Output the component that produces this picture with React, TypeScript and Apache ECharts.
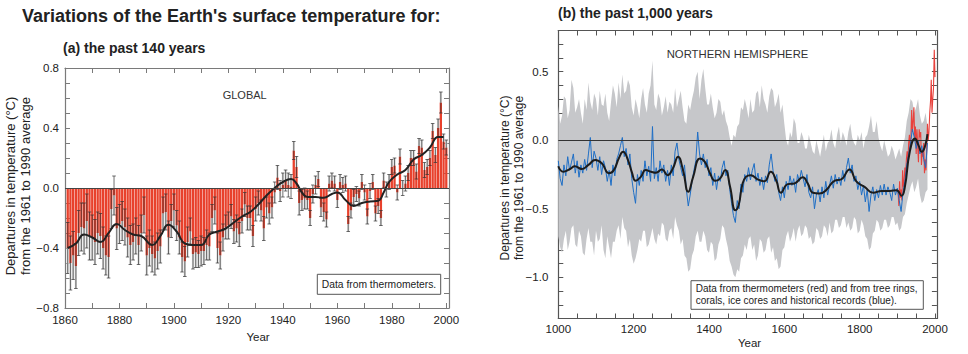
import React, { useEffect, useRef } from 'react';
import * as echarts from 'echarts';

// ---------- (a) Global, 1861-2000 ----------
const globalStartYear = 1861;
const globalValues = [
  -0.40, -0.50, -0.45, -0.52, -0.30, -0.26, -0.27, -0.22, -0.32, -0.33,
  -0.36, -0.30, -0.32, -0.40, -0.45, -0.46, -0.14, -0.05, -0.27, -0.24,
  -0.22, -0.26, -0.33, -0.38, -0.36, -0.32, -0.38, -0.30, -0.18, -0.45,
  -0.40, -0.44, -0.47, -0.42, -0.39, -0.17, -0.16, -0.33, -0.22, -0.15,
  -0.25, -0.33, -0.46, -0.49, -0.36, -0.29, -0.44, -0.43, -0.44, -0.42,
  -0.42, -0.38, -0.39, -0.20, -0.15, -0.40, -0.45, -0.33, -0.26, -0.25,
  -0.19, -0.29, -0.27, -0.31, -0.22, -0.11, -0.20, -0.20, -0.32, -0.14,
  -0.10, -0.15, -0.27, -0.13, -0.17, -0.13, -0.03, 0.07, -0.02, 0.02,
  0.05, 0.02, 0.01, 0.25, 0.14, -0.10, -0.08, -0.07, -0.08, -0.20,
  -0.04, 0.02, 0.06, -0.13, -0.16, -0.21, 0.03, 0.05, 0.03, -0.08,
  0.04, 0.02, 0.03, -0.24, -0.15, -0.06, -0.04, -0.07, 0.04, -0.03,
  -0.19, -0.02, 0.04, -0.17, -0.12, -0.20, 0.05, -0.01, 0.04, 0.14,
  0.15, -0.03, 0.21, 0.00, 0.03, 0.10, 0.20, 0.20, 0.11, 0.28,
  0.27, 0.12, 0.14, 0.20, 0.38, 0.22, 0.40, 0.57, 0.31, 0.27,
];
const globalErrors = [
  0.17, 0.18, 0.16, 0.15, 0.15, 0.16, 0.17, 0.18, 0.16, 0.15,
  0.15, 0.14, 0.15, 0.14, 0.13, 0.14, 0.13, 0.13, 0.14, 0.13,
  0.13, 0.12, 0.13, 0.13, 0.12, 0.12, 0.13, 0.12, 0.12, 0.13,
  0.12, 0.12, 0.11, 0.12, 0.11, 0.11, 0.12, 0.11, 0.11, 0.11,
  0.10, 0.11, 0.10, 0.10, 0.10, 0.09, 0.10, 0.10, 0.09, 0.10,
  0.09, 0.10, 0.09, 0.09, 0.09, 0.10, 0.09, 0.09, 0.08, 0.09,
  0.08, 0.08, 0.09, 0.08, 0.08, 0.08, 0.08, 0.08, 0.07, 0.08,
  0.08, 0.07, 0.08, 0.07, 0.07, 0.07, 0.07, 0.08, 0.07, 0.08,
  0.07, 0.08, 0.08, 0.06, 0.07, 0.08, 0.07, 0.07, 0.06, 0.05,
  0.06, 0.06, 0.05, 0.06, 0.06, 0.05, 0.05, 0.05, 0.05, 0.05,
  0.05, 0.05, 0.05, 0.05, 0.05, 0.05, 0.05, 0.05, 0.05, 0.05,
  0.05, 0.05, 0.05, 0.05, 0.05, 0.05, 0.05, 0.05, 0.05, 0.05,
  0.05, 0.05, 0.05, 0.05, 0.05, 0.05, 0.05, 0.05, 0.05, 0.05,
  0.05, 0.05, 0.05, 0.05, 0.05, 0.05, 0.06, 0.07, 0.05, 0.05,
];
const globalSmoothYears = [
  1861, 1864, 1867, 1870, 1873, 1876, 1879, 1882, 1885, 1888,
  1892, 1895, 1898, 1901, 1904, 1907, 1910, 1913, 1916, 1919,
  1922, 1925, 1928, 1931, 1934, 1937, 1940, 1943, 1945, 1947,
  1949, 1952, 1955, 1958, 1960, 1963, 1966, 1969, 1972, 1975,
  1977, 1979, 1982, 1985, 1988, 1991, 1994, 1997, 1999,
];
const globalSmoothValues = [
  -0.40, -0.37, -0.31, -0.33, -0.36, -0.30, -0.24, -0.28, -0.31, -0.32,
  -0.38, -0.32, -0.245, -0.29, -0.37, -0.38, -0.38, -0.31, -0.29, -0.27,
  -0.23, -0.19, -0.16, -0.11, -0.05, 0.00, 0.04, 0.06, 0.03, -0.03,
  -0.06, -0.06, -0.065, -0.04, -0.03, -0.08, -0.12, -0.10, -0.09, -0.085,
  -0.03, 0.04, 0.09, 0.12, 0.19, 0.22, 0.27, 0.34, 0.34,
];

// ---------- (b) Northern Hemisphere, 1000-2000 ----------
const proxyStartYear = 1000;
const proxyStep = 5;
const proxyValues = [
  -0.15, -0.28, -0.33, -0.18, -0.26, -0.12, -0.22, -0.16, -0.10, -0.24,
  -0.15, -0.27, -0.18, -0.24, -0.14, -0.22, -0.10, 0.02, -0.20, -0.08,
  -0.13, -0.22, -0.12, -0.25, -0.15, -0.20, -0.30, -0.22, -0.33, -0.18,
  -0.26, -0.14, -0.10, -0.04, 0.02, -0.12, -0.06, -0.18, -0.10, -0.28,
  -0.38, -0.46, -0.25, -0.33, -0.22, -0.30, -0.15, -0.26, -0.19, -0.30,
  0.10, -0.28, -0.20, -0.30, -0.15, -0.24, -0.18, -0.30, -0.22, -0.33,
  -0.18, -0.26, -0.08, -0.02, -0.14, -0.20, -0.26, -0.18, -0.36, -0.48,
  -0.40, -0.30, -0.22, -0.15, 0.06, -0.10, -0.18, -0.10, -0.20, -0.14,
  -0.26, -0.20, -0.33, -0.24, -0.36, -0.26, -0.30, -0.20, -0.15, -0.26,
  -0.22, -0.36, -0.46, -0.55, -0.60, -0.44, -0.50, -0.32, -0.38, -0.25,
  -0.30, -0.20, -0.29, -0.22, -0.17, -0.30, -0.24, -0.33, -0.27, -0.36,
  -0.26, -0.31, -0.18, -0.10, -0.22, -0.30, -0.25, -0.38, -0.44, -0.34,
  -0.42, -0.30, -0.36, -0.26, -0.33, -0.28, -0.38, -0.25, -0.30, -0.22,
  -0.28, -0.34, -0.25, -0.38, -0.42, -0.34, -0.50, -0.40, -0.36, -0.45,
  -0.34, -0.42, -0.30, -0.40, -0.33, -0.26, -0.35, -0.25, -0.32, -0.27,
  -0.33, -0.22, -0.30, -0.20, -0.13, -0.24, -0.18, -0.30, -0.26, -0.36,
  -0.30, -0.40, -0.33, -0.45, -0.36, -0.52, -0.40, -0.34, -0.44, -0.36,
  -0.42, -0.33, -0.40, -0.32, -0.40, -0.34, -0.38, -0.44, -0.32, -0.40,
  -0.35, -0.44, -0.52, -0.38, -0.30, -0.18, -0.10, -0.02, 0.08, 0.02,
  -0.06, 0.00, -0.10, -0.04, -0.14, -0.20, -0.02,
];

const bandStartYear = 1000;
const bandStep = 5;
const bandUpper = [
  0.25, 0.12, 0.18, 0.32, 0.30, 0.16, 0.22, 0.44, 0.38, 0.20,
  0.24, 0.30, 0.20, 0.12, 0.30, 0.22, 0.42, 0.28, 0.22, 0.34,
  0.30, 0.18, 0.36, 0.26, 0.25, 0.34, 0.20, 0.14, 0.28, 0.40,
  0.34, 0.24, 0.42, 0.30, 0.48, 0.34, 0.36, 0.44, 0.40, 0.24,
  0.18, 0.30, 0.24, 0.16, 0.30, 0.38, 0.26, 0.20, 0.34, 0.40,
  0.58, 0.26, 0.22, 0.34, 0.30, 0.18, 0.24, 0.32, 0.20, 0.28,
  0.26, 0.20, 0.38, 0.24, 0.30, 0.36, 0.24, 0.14, 0.12, 0.26,
  0.22, 0.30, 0.36, 0.46, 0.50, 0.30, 0.44, 0.52, 0.38, 0.26,
  0.26, 0.34, 0.24, 0.16, 0.20, 0.30, 0.28, 0.18, 0.22, 0.14,
  0.10, 0.02, -0.04, 0.04, 0.02, 0.10, 0.12, 0.24, 0.22, 0.30,
  0.24, 0.16, 0.30, 0.20, 0.22, 0.34, 0.36, 0.24, 0.40, 0.30,
  0.26, 0.20, 0.32, 0.38, 0.36, 0.24, 0.28, 0.34, 0.20, 0.26,
  0.12, 0.00, -0.04, 0.06, 0.02, 0.16, 0.12, -0.02, -0.02, 0.06,
  0.02, -0.06, -0.06, 0.04, -0.02, -0.08, -0.10, 0.00, -0.06, -0.12,
  -0.04, 0.04, -0.08, -0.02, 0.00, 0.08, -0.02, -0.06, 0.04, 0.10,
  -0.02, 0.06, 0.02, -0.04, 0.06, 0.12, 0.02, -0.02, -0.04, 0.04,
  0.00, 0.06, -0.06, 0.02, 0.04, 0.10, 0.18, 0.06, 0.06, 0.14,
  0.02, -0.04, -0.08, 0.00, -0.06, -0.12, -0.10, -0.04, -0.08, -0.14,
  -0.10, -0.06, -0.12, -0.04, 0.02, 0.14, 0.20, 0.30, 0.28, 0.20,
  0.24, 0.30, 0.18, 0.12, 0.14, 0.20, 0.10,
];
const bandLower = [
  -0.70, -0.78, -0.82, -0.72, -0.66, -0.80, -0.74, -0.64, -0.62, -0.76,
  -0.78, -0.66, -0.70, -0.82, -0.84, -0.72, -0.64, -0.74, -0.74, -0.84,
  -0.66, -0.74, -0.72, -0.62, -0.80, -0.86, -0.70, -0.78, -0.86, -0.74,
  -0.74, -0.66, -0.62, -0.72, -0.56, -0.64, -0.66, -0.78, -0.72, -0.84,
  -0.90, -0.86, -0.80, -0.72, -0.74, -0.66, -0.66, -0.78, -0.76, -0.70,
  -0.64, -0.72, -0.76, -0.68, -0.70, -0.60, -0.62, -0.72, -0.74, -0.66,
  -0.64, -0.72, -0.56, -0.62, -0.66, -0.76, -0.72, -0.84, -0.86, -0.96,
  -0.94, -0.84, -0.80, -0.70, -0.66, -0.74, -0.74, -0.66, -0.70, -0.80,
  -0.82, -0.74, -0.76, -0.88, -0.86, -0.76, -0.72, -0.62, -0.64, -0.72,
  -0.78, -0.88, -0.92, -0.98, -1.00, -0.94, -0.96, -0.86, -0.84, -0.76,
  -0.80, -0.72, -0.70, -0.80, -0.76, -0.88, -0.84, -0.72, -0.74, -0.82,
  -0.80, -0.72, -0.70, -0.82, -0.78, -0.88, -0.86, -0.94, -0.92, -0.80,
  -0.78, -0.70, -0.66, -0.74, -0.70, -0.64, -0.74, -0.66, -0.62, -0.70,
  -0.68, -0.62, -0.64, -0.72, -0.70, -0.76, -0.74, -0.64, -0.66, -0.72,
  -0.70, -0.62, -0.64, -0.70, -0.60, -0.68, -0.66, -0.58, -0.58, -0.64,
  -0.62, -0.56, -0.56, -0.64, -0.60, -0.66, -0.64, -0.56, -0.58, -0.68,
  -0.66, -0.58, -0.62, -0.70, -0.72, -0.80, -0.78, -0.68, -0.66, -0.58,
  -0.60, -0.66, -0.64, -0.58, -0.58, -0.64, -0.62, -0.56, -0.56, -0.62,
  -0.60, -0.66, -0.64, -0.56, -0.54, -0.46, -0.40, -0.34, -0.30, -0.38,
  -0.34, -0.28, -0.40, -0.46, -0.44, -0.38, -0.36,
];

const thermoStartYear = 1902;
const thermoStep = 2;
const thermoValues = [
  -0.38, -0.48, -0.30, -0.42, -0.36, -0.44, -0.22, -0.34, -0.30, -0.20,
  -0.26, -0.14, -0.08, -0.16, -0.02, 0.04, -0.06, 0.02, 0.22, 0.06,
  0.14, 0.24, 0.02, 0.10, -0.10, 0.08, -0.04, -0.16, 0.08, 0.02,
  0.06, -0.18, -0.08, -0.12, -0.02, -0.24, -0.14, -0.22, -0.06, 0.12,
  0.00, 0.06, 0.20, 0.28, 0.44, 0.20, 0.30, 0.38, 0.66, 0.46,
];

const nhSmoothYears = [
  1000, 1013, 1031, 1044, 1062, 1080, 1098, 1116, 1134, 1147,
  1161, 1172, 1183, 1196, 1205, 1219, 1232, 1246, 1259, 1275,
  1290, 1304, 1318, 1331, 1345, 1358, 1376, 1389, 1403, 1416,
  1429, 1443, 1456, 1470, 1479, 1488, 1498, 1511, 1529, 1547,
  1564, 1578, 1591, 1609, 1627, 1649, 1662, 1676, 1693, 1711,
  1733, 1751, 1773, 1791, 1813, 1836, 1858, 1880, 1898, 1911,
  1920, 1933, 1947, 1956, 1965, 1973, 1980,
];
const nhSmoothValues = [
  -0.19, -0.23, -0.21, -0.19, -0.21, -0.18, -0.145, -0.17, -0.24, -0.22,
  -0.13, -0.085, -0.13, -0.24, -0.296, -0.267, -0.218, -0.23, -0.238, -0.213,
  -0.255, -0.206, -0.12, -0.218, -0.376, -0.267, -0.133, -0.158, -0.242, -0.296,
  -0.28, -0.218, -0.34, -0.51, -0.47, -0.33, -0.267, -0.255, -0.286, -0.30,
  -0.23, -0.29, -0.383, -0.32, -0.315, -0.27, -0.315, -0.383, -0.388, -0.364,
  -0.296, -0.286, -0.213, -0.30, -0.34, -0.383, -0.37, -0.37, -0.364, -0.405,
  -0.34, -0.085, 0.012, -0.036, -0.085, -0.048, 0.044,
];

const FONT = '"Liberation Sans", Arial, Helvetica, sans-serif';

const fmtSigned = (v: number, d: number) => {
  const s = Math.abs(v).toFixed(d);
  return v < -1e-9 ? '\u2212' + s : s;
};

const series = (start: number, step: number, vals: number[]) =>
  vals.map((v, i) => [start + i * step, v]);

export default function App() {
  const ref = useRef<HTMLDivElement>(null);

  useEffect(() => {
    if (!ref.current) return;
    const chart = echarts.init(ref.current, undefined, { renderer: 'svg' });

    const leftAxisColor = '#7a7a7a';
    const rightAxisColor = '#555';

    const xCommon = (grid: number, min: number, max: number, interval: number, color: string) => ({
      gridIndex: grid,
      type: 'value',
      min,
      max,
      interval,
      splitLine: { show: false },
      axisLine: { show: true, onZero: false, lineStyle: { color, width: 1.2 } },
      axisTick: { show: true, inside: true, length: 5, lineStyle: { color, width: 1 } },
    });

    const globalBars = globalValues.map((v, i) => [globalStartYear + i, v]);
    const globalErr = globalValues.map((v, i) => [globalStartYear + i, v, globalErrors[i]]);

    const option: any = {
      animation: false,
      grid: [
        { left: 65, top: 68, width: 384, height: 240 },
        { left: 558.3, top: 30.5, width: 378.6, height: 288 },
      ],
      xAxis: [
        {
          ...xCommon(0, 1860, 2001, 10, leftAxisColor),
          position: 'bottom',
          axisLabel: {
            color: '#222', fontSize: 11.5, fontFamily: FONT, margin: 6,
            formatter: (v: number) => (Math.round(v) % 20 === 0 && v <= 2000 ? String(Math.round(v)) : ''),
          },
        },
        { ...xCommon(0, 1860, 2001, 10, leftAxisColor), position: 'top', axisLabel: { show: false } },
        {
          ...xCommon(1, 1000, 2005, 50, rightAxisColor),
          position: 'bottom',
          axisLabel: {
            color: '#222', fontSize: 11.5, fontFamily: FONT, margin: 4,
            formatter: (v: number) => (Math.round(v) % 200 === 0 && v <= 2000 ? String(Math.round(v)) : ''),
          },
        },
        { ...xCommon(1, 1000, 2005, 50, rightAxisColor), position: 'top', axisLabel: { show: false } },
      ],
      yAxis: [
        {
          ...xCommon(0, -0.8, 0.8, 0.1, leftAxisColor),
          position: 'left',
          axisLabel: {
            color: '#222', fontSize: 11.5, fontFamily: FONT, margin: 6,
            formatter: (v: number) => {
              const r = Math.round(v * 10);
              return r % 4 === 0 ? fmtSigned(r / 10, 1) : '';
            },
          },
        },
        { ...xCommon(0, -0.8, 0.8, 0.1, leftAxisColor), position: 'right', axisLabel: { show: false } },
        {
          ...xCommon(1, -1.3, 0.8, 0.1, rightAxisColor),
          position: 'left',
          axisLabel: {
            color: '#222', fontSize: 11.5, fontFamily: FONT, margin: 10,
            formatter: (v: number) => {
              const r = Math.round(v * 10);
              return r % 5 === 0 ? fmtSigned(r / 10, 1) : '';
            },
          },
        },
        { ...xCommon(1, -1.3, 0.8, 0.1, rightAxisColor), position: 'right', axisLabel: { show: false } },
      ],
      series: [
        {
          type: 'bar',
          xAxisIndex: 0,
          yAxisIndex: 0,
          data: globalBars,
          barWidth: 2.3,
          itemStyle: { color: '#e8412c' },
          z: 2,
        },
        {
          type: 'custom',
          xAxisIndex: 0,
          yAxisIndex: 0,
          data: globalErr,
          encode: { x: 0, y: 1 },
          z: 3,
          renderItem: (_p: any, api: any) => {
            const x = api.value(0);
            const v = api.value(1);
            const e = api.value(2);
            const pV = api.coord([x, v]);
            const pLo = api.coord([x, v - e]);
            const pHi = api.coord([x, v + e]);
            const far = v < 0 ? pLo : pHi;
            const cap = 1.8;
            const ls = { stroke: '#333', lineWidth: 0.7 };
            return {
              type: 'group',
              children: [
                {
                  type: 'rect',
                  shape: { x: pV[0] - 1.1, y: Math.min(pV[1], far[1]), width: 2.2, height: Math.abs(far[1] - pV[1]) },
                  style: { fill: '#dadada' },
                },
                { type: 'line', shape: { x1: pV[0], y1: pHi[1], x2: pV[0], y2: pLo[1] }, style: ls },
                { type: 'line', shape: { x1: pV[0] - cap, y1: pHi[1], x2: pV[0] + cap, y2: pHi[1] }, style: ls },
                { type: 'line', shape: { x1: pV[0] - cap, y1: pLo[1], x2: pV[0] + cap, y2: pLo[1] }, style: ls },
              ],
            };
          },
        },
        {
          type: 'line',
          xAxisIndex: 0,
          yAxisIndex: 0,
          data: globalSmoothYears.map((y, i) => [y, globalSmoothValues[i]]),
          smooth: 0.5,
          symbol: 'none',
          lineStyle: { color: '#222', width: 2 },
          z: 4,
          markLine: {
            silent: true,
            symbol: 'none',
            label: { show: false },
            lineStyle: { color: '#444', width: 1, type: 'solid' },
            data: [{ yAxis: 0 }],
          },
        },
        {
          // uncertainty band drawn as one polygon through the axis scales
          type: 'custom',
          xAxisIndex: 2,
          yAxisIndex: 2,
          data: [[bandStartYear, 0]],
          encode: { x: 0, y: 1 },
          z: 2,
          renderItem: (_p: any, api: any) => {
            const pts: number[][] = [];
            bandUpper.forEach((u, i) => pts.push(api.coord([bandStartYear + i * bandStep, u])));
            for (let i = bandLower.length - 1; i >= 0; i--) {
              pts.push(api.coord([bandStartYear + i * bandStep, bandLower[i]]));
            }
            return { type: 'polygon', shape: { points: pts }, style: { fill: '#c6c7ca' } };
          },
          markLine: {
            silent: true,
            symbol: 'none',
            label: { show: false },
            lineStyle: { color: '#333', width: 1, type: 'solid' },
            data: [{ yAxis: 0 }],
          },
        },
        {
          type: 'line',
          xAxisIndex: 2,
          yAxisIndex: 2,
          data: series(thermoStartYear, thermoStep, thermoValues),
          symbol: 'none',
          lineStyle: { color: '#e8413c', width: 1.1 },
          z: 3,
        },
        {
          type: 'line',
          xAxisIndex: 2,
          yAxisIndex: 2,
          data: series(proxyStartYear, proxyStep, proxyValues),
          symbol: 'none',
          lineStyle: { color: '#1f6fc6', width: 1 },
          z: 4,
        },
        {
          type: 'line',
          xAxisIndex: 2,
          yAxisIndex: 2,
          data: nhSmoothYears.map((y, i) => [y, nhSmoothValues[i]]),
          smooth: 0.5,
          symbol: 'none',
          lineStyle: { color: '#1c1c1c', width: 2 },
          z: 5,
        },
      ],
      graphic: [
        {
          type: 'text', x: 22, y: 16, z: 100,
          style: { text: "Variations of the Earth's surface temperature for:", fontSize: 18, fontWeight: 'bold', fontFamily: FONT, fill: '#222', textVerticalAlign: 'middle' },
        },
        {
          type: 'text', x: 63, y: 48, z: 100,
          style: { text: '(a) the past 140 years', fontSize: 14, fontWeight: 'bold', fontFamily: FONT, fill: '#222', textVerticalAlign: 'middle' },
        },
        {
          type: 'text', x: 558, y: 13, z: 100,
          style: { text: '(b) the past 1,000 years', fontSize: 14, fontWeight: 'bold', fontFamily: FONT, fill: '#222', textVerticalAlign: 'middle' },
        },
        {
          type: 'text', x: 222.7, y: 94.5, z: 100,
          style: { text: 'GLOBAL', fontSize: 11, fontFamily: FONT, fill: '#333', textVerticalAlign: 'middle' },
        },
        {
          type: 'text', x: 666.7, y: 53.5, z: 100,
          style: { text: 'NORTHERN HEMISPHERE', fontSize: 11.3, fontFamily: FONT, fill: '#333', textVerticalAlign: 'middle' },
        },
        {
          type: 'rect', z: 100,
          shape: { x: 317.3, y: 274.3, width: 123.4, height: 20 },
          style: { fill: '#fff', stroke: '#555', lineWidth: 1 },
        },
        {
          type: 'text', x: 379, y: 284.5, z: 101,
          style: { text: 'Data from thermometers.', fontSize: 10.3, fontFamily: FONT, fill: '#222', textAlign: 'center', textVerticalAlign: 'middle' },
        },
        {
          type: 'rect', z: 100,
          shape: { x: 691, y: 280.7, width: 232.3, height: 28.6 },
          style: { fill: '#fff', stroke: '#555', lineWidth: 1 },
        },
        {
          type: 'text', x: 695.7, y: 288.5, z: 101,
          style: { text: 'Data from thermometers (red) and from tree rings,', fontSize: 10, fontFamily: FONT, fill: '#222', textVerticalAlign: 'middle' },
        },
        {
          type: 'text', x: 695.7, y: 300.8, z: 101,
          style: { text: 'corals, ice cores and historical records (blue).', fontSize: 10, fontFamily: FONT, fill: '#222', textVerticalAlign: 'middle' },
        },
        {
          type: 'text', x: 10, y: 186, rotation: Math.PI / 2, z: 100,
          style: { text: 'Departures in temperature (\u00B0C)', fontSize: 13, fontFamily: FONT, fill: '#222', textAlign: 'center', textVerticalAlign: 'middle' },
        },
        {
          type: 'text', x: 25.5, y: 186, rotation: Math.PI / 2, z: 100,
          style: { text: 'from the 1961 to 1990 average', fontSize: 13, fontFamily: FONT, fill: '#222', textAlign: 'center', textVerticalAlign: 'middle' },
        },
        {
          type: 'text', x: 505, y: 178, rotation: Math.PI / 2, z: 100,
          style: { text: 'Departures in temperature (\u00B0C)', fontSize: 12, fontFamily: FONT, fill: '#222', textAlign: 'center', textVerticalAlign: 'middle' },
        },
        {
          type: 'text', x: 519, y: 178, rotation: Math.PI / 2, z: 100,
          style: { text: 'from the 1961 to 1990 average', fontSize: 12, fontFamily: FONT, fill: '#222', textAlign: 'center', textVerticalAlign: 'middle' },
        },
        {
          type: 'text', x: 258, y: 336.5, z: 100,
          style: { text: 'Year', fontSize: 11.5, fontFamily: FONT, fill: '#222', textAlign: 'center', textVerticalAlign: 'middle' },
        },
        {
          type: 'text', x: 749.5, y: 343, z: 100,
          style: { text: 'Year', fontSize: 11.5, fontFamily: FONT, fill: '#222', textAlign: 'center', textVerticalAlign: 'middle' },
        },
      ],
    };

    chart.setOption(option);
    return () => chart.dispose();
  }, []);

  return (
    <div
      ref={ref}
      style={{ position: 'absolute', left: 0, top: 0, width: 968, height: 354, background: '#fff' }}
    />
  );
}
